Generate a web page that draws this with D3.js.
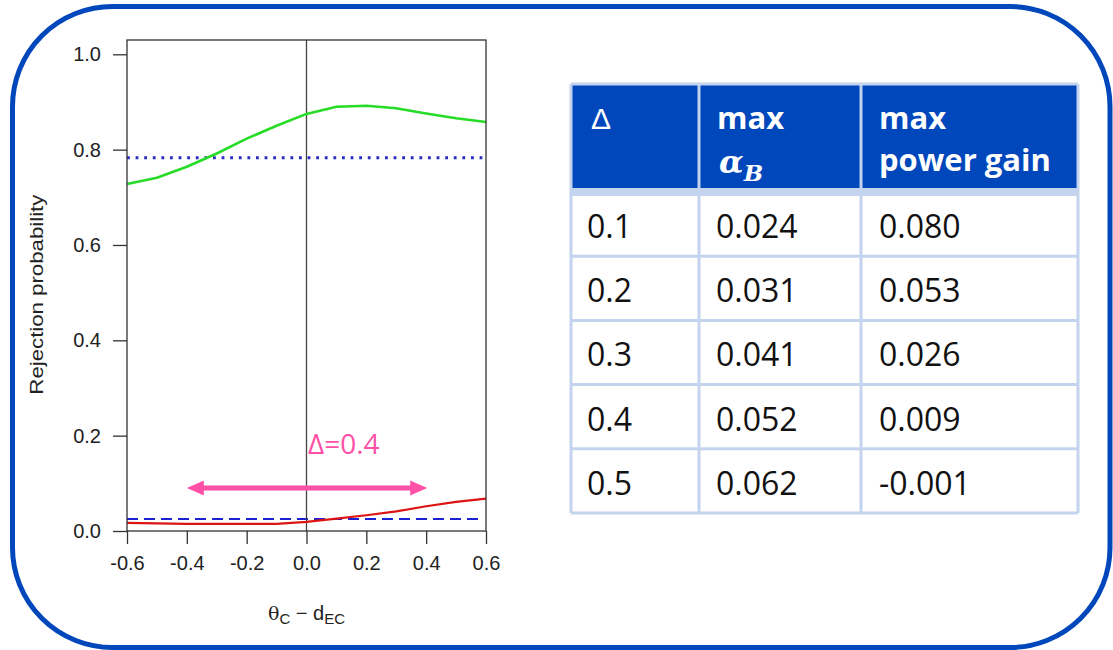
<html>
<head>
<style>
  body { margin: 0; background: #fff; }
  svg { display: block; }
  .tick text { font-family: "Liberation Sans", Arial, sans-serif; font-size: 20px; fill: #222; }
  .tick line { stroke: #333; }
  .domain { display: none; }
</style>
<script src="https://cdn.jsdelivr.net/npm/d3@7/dist/d3.min.js"></script>
</head>
<body>
<svg id="chart" width="1113" height="650"></svg>
<script>
// curve values, one per 0.1 step of theta_C - d_EC
const thetaDiff = [-0.6, -0.5, -0.4, -0.3, -0.2, -0.1, 0.0, 0.1, 0.2, 0.3, 0.4, 0.5, 0.6]
const powerCurve = [0.728, 0.741, 0.764, 0.792, 0.823, 0.850, 0.875, 0.890, 0.892, 0.887, 0.876, 0.866, 0.858]
const alphaCurve = [0.017, 0.016, 0.015, 0.015, 0.015, 0.015, 0.019, 0.026, 0.033, 0.041, 0.052, 0.061, 0.068]
const powerRef = 0.783
const alphaRef = 0.025
const deltaRange = [-0.4, 0.4]
const deltaArrowY = 0.09
const deltaLabel = "Δ=0.4"

const xTicks = [-0.6, -0.4, -0.2, 0.0, 0.2, 0.4, 0.6]
const yTicks = [0.0, 0.2, 0.4, 0.6, 0.8, 1.0]

// table
const tableDelta = ["0.1", "0.2", "0.3", "0.4", "0.5"]
const tableMaxAlpha = ["0.024", "0.031", "0.041", "0.052", "0.062"]
const tableMaxGain = ["0.080", "0.053", "0.026", "0.009", "-0.001"]

const svg = d3.select("#chart")
const blue = "#0047bb"
const pink = "#ff4fa6"

// outer rounded frame
svg.append("rect")
  .attr("x", 12.5).attr("y", 6.5)
  .attr("width", 1097.5).attr("height", 641)
  .attr("rx", 100).attr("ry", 100)
  .attr("fill", "none")
  .attr("stroke", blue)
  .attr("stroke-width", 5)

////////////////////////////////////////////////////////////////
// plot
let plot = { left: 127, right: 486, top: 40, bottom: 531 }

let x = d3.scaleLinear().domain([-0.6, 0.6]).range([plot.left, plot.right])
let y = d3.scaleLinear().domain([0, 1.03]).range([plot.bottom, plot.top])

let pts = (vals) => thetaDiff.map((t, i) => [t, vals[i]])
let line = d3.line().x(d => x(d[0])).y(d => y(d[1]))

// reference lines
svg.append("line")
  .attr("x1", x(-0.6)).attr("x2", x(0.59))
  .attr("y1", y(powerRef)).attr("y2", y(powerRef))
  .attr("stroke", "#2a2ac4").attr("stroke-width", 2.8)
  .attr("stroke-dasharray", "2.8,5.8")

svg.append("line")
  .attr("x1", x(-0.6)).attr("x2", x(0.59))
  .attr("y1", y(alphaRef)).attr("y2", y(alphaRef))
  .attr("stroke", "#1c22d4").attr("stroke-width", 2)
  .attr("stroke-dasharray", "11,6")

// vertical line at 0
svg.append("line")
  .attr("x1", x(0)).attr("x2", x(0))
  .attr("y1", plot.top).attr("y2", plot.bottom)
  .attr("stroke", "#444").attr("stroke-width", 1.3)

svg.append("path")
  .datum(pts(powerCurve))
  .attr("d", line)
  .attr("fill", "none")
  .attr("stroke", "#27dc27")
  .attr("stroke-width", 2.6)

svg.append("path")
  .datum(pts(alphaCurve))
  .attr("d", line)
  .attr("fill", "none")
  .attr("stroke", "#dd1414")
  .attr("stroke-width", 2.2)

// box
svg.append("rect")
  .attr("x", plot.left).attr("y", plot.top)
  .attr("width", plot.right - plot.left).attr("height", plot.bottom - plot.top)
  .attr("fill", "none").attr("stroke", "#333").attr("stroke-width", 1.3)

// axes
let axisX = d3.axisBottom(x).tickValues(xTicks).tickFormat(d3.format(".1f")).tickSize(13).tickPadding(12)
svg.append("g")
  .attr("transform", `translate(0,${plot.bottom})`)
  .call(axisX)
  .selectAll(".tick text").text(d => d3.format(".1f")(d).replace("−", "-"))

let axisY = d3.axisLeft(y).tickValues(yTicks).tickFormat(d3.format(".1f")).tickSize(14).tickPadding(12)
svg.append("g")
  .attr("transform", `translate(${plot.left},0)`)
  .call(axisY)
svg.selectAll(".tick line").attr("stroke-width", 1.3)

// axis titles
svg.append("text")
  .attr("transform", `translate(43,${(y(0) + y(1)) / 2 + 2}) rotate(-90)`)
  .attr("text-anchor", "middle")
  .attr("font-family", "Liberation Sans, Arial, sans-serif")
  .attr("font-size", 17.5)
  .attr("fill", "#222")
  .attr("textLength", 200)
  .attr("lengthAdjust", "spacingAndGlyphs")
  .text("Rejection probability")

let xt = svg.append("text")
  .attr("x", x(0)).attr("y", 620)
  .attr("text-anchor", "middle")
  .attr("font-family", "Liberation Sans, Arial, sans-serif")
  .attr("font-size", 20)
  .attr("fill", "#222")
xt.append("tspan").attr("font-family", "DejaVu Serif, serif").attr("font-size", 19).text("θ")
xt.append("tspan").attr("font-size", 15).attr("dy", 4).text("C")
xt.append("tspan").attr("dy", -4).text(" − d")
xt.append("tspan").attr("font-size", 15).attr("dy", 4).text("EC")

// delta arrow
let ax0 = x(deltaRange[0]), ax1 = x(deltaRange[1]), ay = y(deltaArrowY)
let head = 17, half = 7.5
svg.append("line")
  .attr("x1", ax0 + head - 2).attr("x2", ax1 - head + 2)
  .attr("y1", ay).attr("y2", ay)
  .attr("stroke", pink).attr("stroke-width", 5)
svg.append("path")
  .attr("d", `M${ax0},${ay} L${ax0 + head},${ay - half} L${ax0 + head},${ay + half} Z`)
  .attr("fill", pink)
svg.append("path")
  .attr("d", `M${ax1 + 1},${ay} L${ax1 + 1 - head},${ay - half} L${ax1 + 1 - head},${ay + half} Z`)
  .attr("fill", pink)
svg.append("text")
  .attr("x", x(0.005)).attr("y", 454)
  .attr("font-family", "Open Sans, sans-serif")
  .attr("font-size", 28)
  .attr("fill", pink)
  .text(deltaLabel)

////////////////////////////////////////////////////////////////
// table
let cols = [571, 699, 861, 1078]
let tableTop = 84, headBottom = 189, bodyTop = 192, tableBottom = 513
let borderCol = "#c4d4ee"

let rowScale = d3.scaleBand().domain(tableDelta).range([bodyTop, tableBottom])

let tbl = svg.append("g")
tbl.append("rect")
  .attr("x", cols[0]).attr("y", tableTop)
  .attr("width", cols[3] - cols[0]).attr("height", headBottom - tableTop)
  .attr("fill", blue)
tbl.append("rect")
  .attr("x", cols[0]).attr("y", headBottom - 1)
  .attr("width", cols[3] - cols[0]).attr("height", 8)
  .attr("fill", borderCol)

// grid lines
tbl.selectAll(".vline").data(cols).enter().append("line")
  .attr("x1", d => d).attr("x2", d => d)
  .attr("y1", tableTop).attr("y2", tableBottom)
  .attr("stroke", borderCol).attr("stroke-width", 3)
tbl.selectAll(".hline").data(tableDelta.slice(1).map(d => rowScale(d)).concat([tableTop, tableBottom]))
  .enter().append("line")
  .attr("x1", cols[0]).attr("x2", cols[3])
  .attr("y1", d => d).attr("y2", d => d)
  .attr("stroke", borderCol).attr("stroke-width", 3)

// header text
let headFont = "Open Sans, sans-serif"
tbl.append("text")
  .attr("x", 591).attr("y", 129)
  .attr("font-family", "Liberation Sans, sans-serif")
  .attr("font-size", 30)
  .attr("fill", "#fff")
  .text("Δ")
let h2 = tbl.append("text")
  .attr("font-family", headFont).attr("font-size", 31).attr("font-weight", "bold")
  .attr("fill", "#fff")
h2.append("tspan").attr("x", 717).attr("y", 129).text("max")
let a = tbl.append("text")
  .attr("x", 719).attr("y", 173)
  .attr("font-family", "DejaVu Serif, serif").attr("font-style", "italic").attr("font-weight", "bold")
  .attr("font-size", 32).attr("fill", "#fff")
a.append("tspan").text("α")
a.append("tspan").attr("font-size", 23).attr("dy", 8).text("B")
let h3 = tbl.append("text")
  .attr("font-family", headFont).attr("font-size", 31).attr("font-weight", "bold")
  .attr("fill", "#fff")
h3.append("tspan").attr("x", 879).attr("y", 129).text("max")
h3.append("tspan").attr("x", 879).attr("y", 171).text("power gain")

// body text
let cellCols = [
  { x: 587, vals: tableDelta },
  { x: 716, vals: tableMaxAlpha },
  { x: 879, vals: tableMaxGain }
]
cellCols.forEach(c => {
  tbl.selectAll(null).data(c.vals.map((v, i) => ({ v, key: tableDelta[i] })))
    .enter().append("text")
    .attr("x", c.x)
    .attr("y", d => rowScale(d.key) + 46)
    .attr("font-family", headFont).attr("font-size", 32)
    .attr("fill", "#111")
    .text(d => d.v)
})
</script>
</body>
</html>
